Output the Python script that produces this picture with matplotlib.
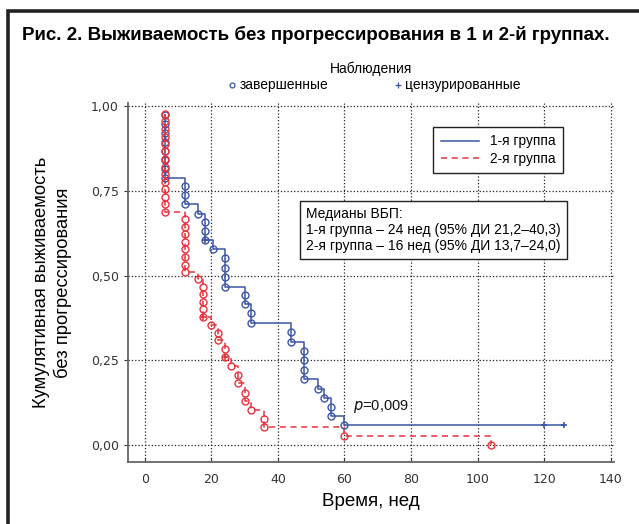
import matplotlib
matplotlib.use('Agg')
import matplotlib.pyplot as plt
from matplotlib.lines import Line2D
from matplotlib.patches import Rectangle

plt.rcParams['font.family'] = ['Liberation Sans', 'DejaVu Sans']

BLUE = '#3b55a6'
RED = '#e8323c'

# группа 1: завершенные наблюдения (время, выживаемость)
t1 = [6, 6, 6, 6, 6, 6, 6, 6,
      12, 12, 12, 16, 18, 18, 18, 20.5,
      24, 24, 24, 24, 30, 30, 32, 32,
      44, 44, 48, 48, 48, 48, 52, 54, 56, 56, 60]
s1 = [0.974, 0.947, 0.921, 0.895, 0.868, 0.842, 0.816, 0.789,
      0.765, 0.737, 0.711, 0.683, 0.659, 0.632, 0.607, 0.578,
      0.551, 0.524, 0.497, 0.468, 0.442, 0.416, 0.389, 0.360,
      0.333, 0.305, 0.279, 0.252, 0.223, 0.195, 0.167, 0.139, 0.113, 0.085, 0.058]
cens1_t = [18, 120, 126]
cens1_s = [0.607, 0.058, 0.058]

# группа 2
t2 = [6, 6, 6, 6, 6, 6, 6, 6, 6, 6, 6, 6, 6, 6,
      12, 12, 12, 12, 12, 12, 12, 12,
      16, 17.5, 17.5, 17.5, 17.5, 17.5,
      20, 22, 22, 24, 24, 26, 28, 28, 30, 30, 32, 36, 36, 60, 104]
s2 = [0.978, 0.956, 0.933, 0.911, 0.889, 0.867, 0.844, 0.822, 0.800, 0.778, 0.756, 0.733, 0.711, 0.689,
      0.667, 0.644, 0.622, 0.600, 0.578, 0.556, 0.533, 0.511,
      0.490, 0.468, 0.445, 0.423, 0.401, 0.378,
      0.355, 0.332, 0.311, 0.284, 0.261, 0.234, 0.208, 0.183, 0.154, 0.131, 0.105, 0.078, 0.053, 0.026, 0.0]
cens2_t = [17.5, 24]
cens2_s = [0.378, 0.261]

x_ticks = [0, 20, 40, 60, 80, 100, 120, 140]
y_ticks = [0.0, 0.25, 0.5, 0.75, 1.0]
y_labels = ['0,00', '0,25', '0,50', '0,75', '1,00']

fig = plt.figure(figsize=(6.39, 5.24), dpi=100)
ax = fig.add_axes([0.2003, 0.1183, 0.7607, 0.6851])

ax.set_xlim(-5, 141)
ax.set_ylim(-0.05, 1.01)
ax.set_xticks(x_ticks)
ax.set_yticks(y_ticks)
ax.set_yticklabels(y_labels)
ax.tick_params(labelsize=9, colors='#333333', length=3, width=0.8)
for lab in ax.get_xticklabels() + ax.get_yticklabels():
    lab.set_family('DejaVu Sans')
ax.tick_params(axis='x', direction='in', pad=8)
ax.grid(True, linestyle=':', color='#222222', linewidth=0.9)
ax.set_axisbelow(True)
for side in ['top', 'right']:
    ax.spines[side].set_visible(False)
for side in ['left', 'bottom']:
    ax.spines[side].set_color('#666666')
    ax.spines[side].set_linewidth(1.3)

# ступенчатые кривые
ax.plot(t1 + [126], s1 + [s1[-1]], drawstyle='steps-post', color=BLUE, lw=1.1)
ax.plot(t2, s2, drawstyle='steps-post', color=RED, lw=1.1, dashes=(4, 3))
ax.plot(t1, s1, 'o', ms=5, mfc='none', mec=BLUE, mew=1.0)
ax.plot(t2, s2, 'o', ms=5, mfc='none', mec=RED, mew=1.0)
ax.plot(cens1_t, cens1_s, '+', ms=5, color=BLUE, mew=1.2)
ax.plot(cens2_t, cens2_s, '+', ms=5, color=RED, mew=1.2)

ax.text(62.5, 0.114, '$p$=0,009', fontsize=10.5, color='#111111', va='center')

ax.text(48.5, 0.635,
        'Медианы ВБП:\n1-я группа – 24 нед (95% ДИ 21,2–40,3)\n2-я группа – 16 нед (95% ДИ 13,7–24,0)',
        fontsize=10, linespacing=1.2, va='center', ha='left',
        bbox=dict(boxstyle='square,pad=0.45', fc='white', ec='#222222', lw=1.0))

handles = [Line2D([], [], color=BLUE, lw=1.1),
           Line2D([], [], color=RED, lw=1.1, dashes=(4, 3))]
leg = ax.legend(handles, ['1-я группа', '2-я группа'], loc='upper left',
                bbox_to_anchor=(0.62, 0.945), fontsize=9.8, frameon=True,
                fancybox=False, edgecolor='#222222', framealpha=1,
                handlelength=2.8, borderpad=0.55, labelspacing=0.25,
                borderaxespad=0.3)
leg.get_frame().set_linewidth(1.0)

ax.set_xlabel('Время, нед', fontsize=13.5, labelpad=5)
ax.set_ylabel('Кумулятивная выживаемость\nбез прогрессирования', fontsize=13.2, labelpad=14)

fig.text(22 / 639, 1 - 35 / 524, 'Рис. 2. Выживаемость без прогрессирования в 1 и 2-й группах.',
         fontsize=13.5, fontweight='bold', va='center', ha='left')

# легенда наблюдений
fig.text(371 / 639, 1 - 69 / 524, 'Наблюдения', fontsize=10, ha='center', va='center')
fig.add_artist(Line2D([232 / 639], [1 - 85 / 524], transform=fig.transFigure, marker='o',
                      ms=3.5, mfc='none', mec=BLUE, mew=0.9, linestyle='none'))
fig.text(240 / 639, 1 - 85 / 524, 'завершенные', fontsize=10, ha='left', va='center')
fig.add_artist(Line2D([398 / 639], [1 - 85 / 524], transform=fig.transFigure, marker='+',
                      ms=4, color=BLUE, mew=0.9, linestyle='none'))
fig.text(405 / 639, 1 - 85 / 524, 'цензурированные', fontsize=10, ha='left', va='center')

fig.add_artist(Rectangle((8 / 639, -0.1), 1.2, 0.1 + 1 - 11 / 524, transform=fig.transFigure,
                         fill=False, ec='#222222', lw=2.6))

fig.savefig('out.png', dpi=100)
